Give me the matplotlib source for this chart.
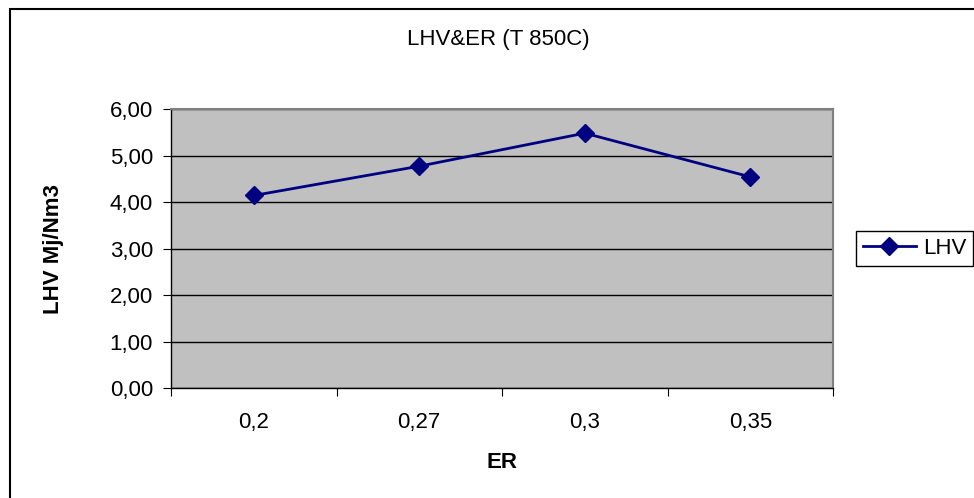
import matplotlib.pyplot as plt
from matplotlib.patches import Rectangle

er_labels = ['0,2', '0,27', '0,3', '0,35']
lhv = [4.14, 4.77, 5.48, 4.54]
y_ticks = [0, 1, 2, 3, 4, 5, 6]

plt.rcParams['font.family'] = ['Liberation Sans', 'DejaVu Sans']
FS = 16

W, H = 974, 498
fig = plt.figure(figsize=(W / 100, H / 100), dpi=100)

# outer chart frame (right and bottom edges run off the image)
fig.patches.append(Rectangle((10 / W, -10 / H), 980 / W, (H - 9 + 10) / H,
                             transform=fig.transFigure, fill=False,
                             edgecolor='black', linewidth=1.5, clip_on=False))

ax = fig.add_axes([171 / W, 1 - 388 / H, 662 / W, 279 / H])
ax.set_facecolor('#C0C0C0')
for s in ax.spines.values():
    s.set_color('#808080')
    s.set_linewidth(1.5)
ax.spines['left'].set_color('black')
ax.spines['bottom'].set_color('black')
ax.spines['left'].set_linewidth(1)
ax.spines['bottom'].set_linewidth(1)

x = list(range(len(lhv)))
ax.plot(x, lhv, color='#000080', lw=2, marker='D', markersize=9,
        label='LHV', zorder=3)

ax.set_xlim(-0.5, len(lhv) - 0.5)
ax.set_ylim(0, 6)
ax.set_yticks(y_ticks)
ax.set_yticklabels([f'{v:.2f}'.replace('.', ',') for v in y_ticks], fontsize=FS)
ax.yaxis.grid(True, color='black', lw=1)
ax.set_axisbelow(True)

ax.set_xticks([i - 0.5 for i in range(len(lhv) + 1)])
ax.set_xticklabels([])
ax.set_xticks(x, minor=True)
ax.set_xticklabels(er_labels, minor=True, fontsize=FS)
ax.tick_params(axis='x', which='major', direction='out', length=6, color='black')
ax.tick_params(axis='x', which='minor', length=0, pad=17)
ax.tick_params(axis='y', direction='out', length=6, pad=7, color='black')

fig.text(498 / W, 1 - 40 / H, 'LHV&ER (T 850C)', ha='center', va='center', fontsize=FS)
fig.text(502 / W, 1 - 462 / H, 'ER', ha='center', va='center', fontsize=FS, fontweight='bold')
fig.text(53 / W, 1 - 249 / H, 'LHV Mj/Nm3', ha='center', va='center', fontsize=FS,
         fontweight='bold', rotation=90)

leg = fig.legend(loc='center left', bbox_to_anchor=(856 / W, 1 - 248.5 / H),
                 fontsize=FS, fancybox=False, edgecolor='black', framealpha=1,
                 handlelength=2.4, borderpad=0.3, handletextpad=0.3,
                 borderaxespad=0)
leg.get_frame().set_linewidth(1)

fig.savefig('out.png', dpi=100)
